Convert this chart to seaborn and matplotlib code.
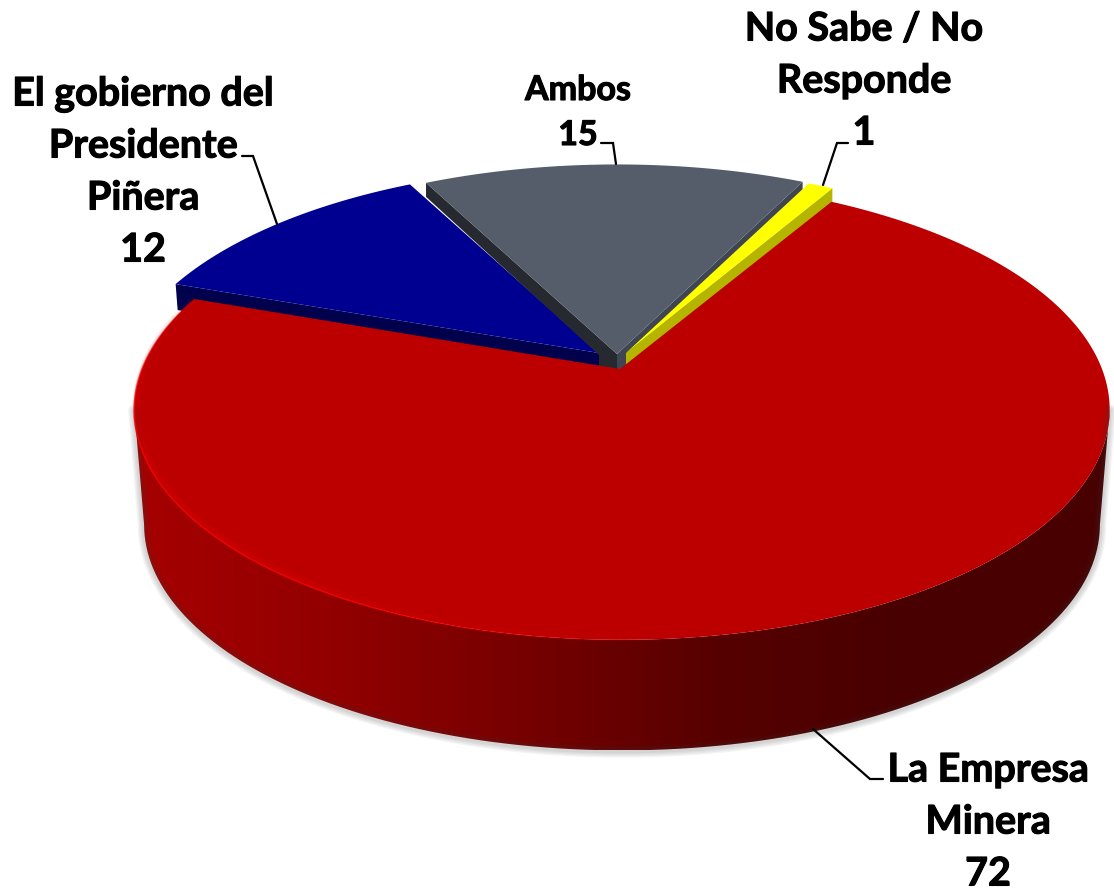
import numpy as np
import matplotlib
matplotlib.use("Agg")
import matplotlib.pyplot as plt
import matplotlib.patheffects as pe
from matplotlib.patches import Polygon, PathPatch
from matplotlib.path import Path
from matplotlib.collections import LineCollection
import seaborn as sns

sns.set_theme(style="white")
plt.rcParams["font.family"] = ["Lato", "DejaVu Sans"]

# data, clockwise from the start angle
categories = ["La Empresa\nMinera", "El gobierno del\nPresidente\nPiñera", "Ambos", "No Sabe / No\nResponde"]
values = [72, 12, 15, 1]
top_colors = ["#bc0000", "#000090", "#565d6a", "#ffff00"]
start_angle = 30.2

# perspective of the disc
cx, cy = 622, 370
R, S, k = 480, 223, 0.1765
depth = 116

# shift and scale of each exploded slice
shifts = [(0, 0, 1.0), (-23, -16, 0.985), (-5, -15, 1.0), (4, -16, 0.985)]


def project(theta, ox=0, oy=0, scale=1.0):
    t = np.radians(theta)
    w = 1 + k * np.cos(t)
    return np.column_stack([
        cx + ox + scale * R * np.sin(t) / w,
        cy + oy - scale * S * np.cos(t) / w,
    ])


def arc(a, b, ox=0, oy=0, scale=1.0):
    return project(np.linspace(a, b, 240), ox, oy, scale)


fig = plt.figure(figsize=(11.14, 8.95), dpi=100)
ax = fig.add_axes([0, 0, 1, 1])
ax.set_xlim(0, 1114)
ax.set_ylim(895, 0)
ax.axis("off")

spans = []
a = start_angle
for v in values:
    spans.append((a, a + v * 3.6))
    a += v * 3.6

# blue slice
a0, a1 = spans[1]
ox, oy, sc = shifts[1]
apex = np.array([cx + ox, cy + oy])
edge = arc(a0, a1, ox, oy, sc)
edge[:, 0] = apex[0] + (edge[:, 0] - apex[0]) * 1.005
ax.add_patch(Polygon([apex, edge[0], edge[0] + [2, 26], apex + [0, 26]], color="#00004d", lw=0))
ax.add_patch(Polygon(np.vstack([apex, edge]), color=top_colors[1], lw=0))

# gray slice
a0, a1 = spans[2]
ox, oy, sc = shifts[2]
apex = np.array([cx + ox, cy + oy])
edge = arc(a0, a1, ox, oy, sc)
ax.add_patch(Polygon([edge[0], apex, apex + [0, 15], apex + [-18, 15], apex + [-18, 1], edge[0] + [0, 14]], color="#262a30", lw=0))
ax.add_patch(Polygon([apex, edge[-1], edge[-1] + [0, 8], apex + [10, 15], apex + [0, 15]], color="#3f4652", lw=0))
ax.add_patch(Polygon(np.vstack([apex, edge]), color=top_colors[2], lw=0))

# yellow slice
a0, a1 = spans[3]
ox, oy, sc = shifts[3]
apex = np.array([cx + ox, cy + oy])
edge = arc(a0, a1, ox, oy, sc)
ax.add_patch(Polygon([apex, edge[-1], edge[-1] + [0, 14], apex + [0, 15]], color="#b5b500", lw=0))
ax.add_patch(Polygon(np.vstack([apex, edge]), color=top_colors[3], lw=0))

# outline of the red wall, from the widest points of the disc
side = np.degrees(np.arccos(-k))
top_front = arc(side, 360 - side)
bottom_front = arc(side, 360 - side, 0, depth, 0.98)
outline = np.vstack([top_front, bottom_front[::-1]])

# soft shadow under the wall
shadow_line = np.vstack([top_front[-1], bottom_front[::-1], top_front[0]])
for lw in [9, 7, 5, 3]:
    ax.plot(shadow_line[:, 0], shadow_line[:, 1] + 1, color="#404040", alpha=0.06, lw=lw, solid_joinstyle="round")

wall_colors = sns.blend_palette(["#a60000", "#920000", "#760000", "#560000", "#480000", "#480000"], n_colors=300)
wall = ax.imshow(
    np.array(wall_colors)[np.newaxis, :, :],
    extent=[outline[:, 0].min(), outline[:, 0].max(), outline[:, 1].max(), outline[:, 1].min()],
    aspect="auto",
    interpolation="bilinear",
)
ax.set_xlim(0, 1114)
ax.set_ylim(895, 0)
wall.set_clip_path(PathPatch(Path(np.vstack([outline, outline[0]])), transform=ax.transData))

# red slice on top
a0, a1 = spans[0]
edge = arc(a0, a1)
ax.add_patch(Polygon(np.vstack([[cx - 2, cy], edge]), color=top_colors[0], lw=0))

# brighter rim on the lit side of the red slice
rim_angles = np.linspace(175, 289, 240)
rim = project(rim_angles)
segments = np.stack([rim[:-1], rim[1:]], axis=1)
fade = np.interp(rim_angles[:-1], [175, 215, 258, 289], [0, 0.9, 0.9, 0.2])
rim_colors = np.zeros((len(segments), 4))
rim_colors[:, 0] = 0.93
rim_colors[:, 3] = fade
ax.add_collection(LineCollection(segments, colors=rim_colors, linewidths=1.3))
rim_colors = rim_colors.copy()
rim_colors[:, 3] = fade * 0.2
ax.add_collection(LineCollection(segments + np.array([2, -2]), colors=rim_colors, linewidths=5))

# leader lines
leaders = [
    ([813, 870, 883], [730, 780, 780]),
    ([277, 253, 242], [225, 157, 157]),
    ([616, 613, 601], [165, 144, 144]),
    ([823, 837, 848], [186, 144, 144]),
]
for lx, ly in leaders:
    ax.plot(lx, ly, color="black", lw=1.6, solid_joinstyle="miter")

# labels, one text per line
label_pos = [(988, 771, 52, 28.4), (143, 95, 52, 28.4), (578, 91, 45, 24.5), (864, 30, 52, 28.4)]
for name, value, (tx, ty, step, size) in zip(categories, values, label_pos):
    for i, line in enumerate(name.split("\n") + [str(value)]):
        ax.text(tx, ty + i * step, line, ha="center", va="center", fontsize=size, fontweight="bold", color="black",
                path_effects=[pe.withStroke(linewidth=0.8, foreground="black")])

fig.savefig("out.png", dpi=100)
